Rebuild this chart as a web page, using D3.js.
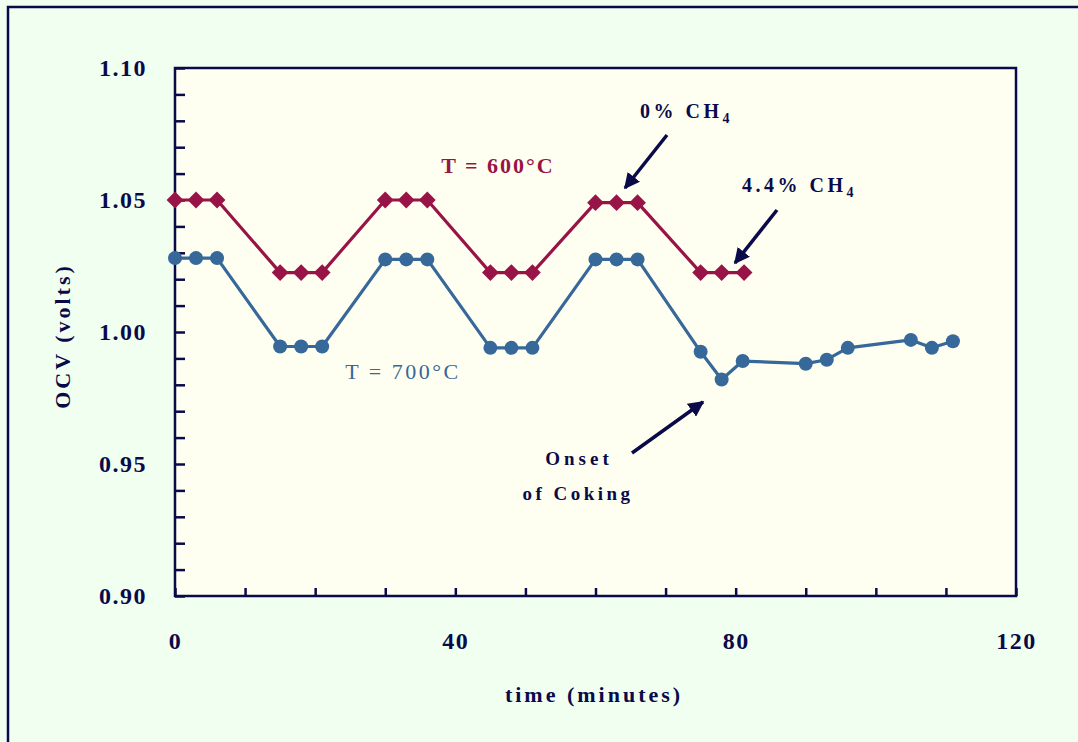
<!DOCTYPE html>
<html>
<head>
<meta charset="utf-8">
<script src="https://cdn.jsdelivr.net/npm/d3@7/dist/d3.min.js"></script>
<style>
  html, body { margin: 0; padding: 0; background: #f1fff1; }
  svg { display: block; }
  text { font-family: "Liberation Serif", "Times New Roman", serif; }
</style>
</head>
<body>
<svg id="chart" width="1078" height="742"></svg>
<script>
// OCV over time for two cell temperatures, switching between 0% and 4.4% CH4
const time600 = [0, 3, 6, 15, 18, 21, 30, 33, 36, 45, 48, 51, 60, 63, 66, 75, 78, 81.2];
const ocv600  = [1.050, 1.050, 1.050, 1.0225, 1.0225, 1.0225, 1.050, 1.050, 1.050,
                 1.0225, 1.0225, 1.0225, 1.049, 1.049, 1.049, 1.0225, 1.0225, 1.0225];

const time700 = [0, 3, 6, 15, 18, 21, 30, 33, 36, 45, 48, 51, 60, 63, 66,
                 75, 78, 81, 90, 93, 96, 105, 108, 111];
const ocv700  = [1.028, 1.028, 1.028, 0.9945, 0.9945, 0.9945, 1.0275, 1.0275, 1.0275,
                 0.994, 0.994, 0.994, 1.0275, 1.0275, 1.0275,
                 0.9925, 0.982, 0.989, 0.988, 0.9895, 0.994, 0.997, 0.994, 0.9965];

const xTickValues = [0, 10, 20, 30, 40, 50, 60, 70, 80, 90, 100, 110, 120];
const xTickLabels = [0, 40, 80, 120];
const yTickValues = [0.90, 0.91, 0.92, 0.93, 0.94, 0.95, 0.96, 0.97, 0.98, 0.99, 1.00,
                     1.01, 1.02, 1.03, 1.04, 1.05, 1.06, 1.07, 1.08, 1.09, 1.10];
const yTickLabels = [0.90, 0.95, 1.00, 1.05, 1.10];

const navy = "#0a0a4a";
const maroon = "#981447";
const steel = "#36689a";

const svg = d3.select("#chart");

// outer frame
svg.append("rect")
  .attr("x", 8).attr("y", 7).attr("width", 1100).attr("height", 760)
  .attr("fill", "#f1fff1").attr("stroke", navy).attr("stroke-width", 2.5);

const plot = { left: 175, top: 68, right: 1016, bottom: 596 };

const x = d3.scaleLinear().domain([0, 120]).range([plot.left, plot.right]);
const y = d3.scaleLinear().domain([0.90, 1.10]).range([plot.bottom, plot.top]);

// plot area
svg.append("rect")
  .attr("x", plot.left).attr("y", plot.top)
  .attr("width", plot.right - plot.left).attr("height", plot.bottom - plot.top)
  .attr("fill", "#fffff1").attr("stroke", navy).attr("stroke-width", 2.5);

const isLabel = (arr, v) => arr.some(a => Math.abs(a - v) < 1e-9);

// x axis (ticks point into the plot)
const xAxis = svg.append("g")
  .attr("transform", `translate(0,${plot.bottom})`)
  .call(d3.axisBottom(x).tickValues(xTickValues).tickSize(-8).tickPadding(36)
    .tickFormat(d => isLabel(xTickLabels, d) ? String(d) : ""));

// y axis
const yAxis = svg.append("g")
  .attr("transform", `translate(${plot.left},0)`)
  .call(d3.axisLeft(y).tickValues(yTickValues).tickSize(-10).tickPadding(28)
    .tickFormat(d => isLabel(yTickLabels, d) ? d3.format(".2f")(d) : ""));

[xAxis, yAxis].forEach(g => {
  g.select(".domain").remove();
  g.selectAll(".tick line").attr("stroke", navy).attr("stroke-width", 2.5);
  g.selectAll(".tick text")
    .attr("fill", navy)
    .style("font-size", "24px")
    .style("font-weight", "bold")
    .style("letter-spacing", "1.5px");
});

// axis titles
svg.append("text")
  .attr("x", 594).attr("y", 702)
  .attr("text-anchor", "middle")
  .attr("fill", navy)
  .style("font-size", "22px").style("font-weight", "bold").style("letter-spacing", "3px")
  .text("time (minutes)");

svg.append("text")
  .attr("transform", "translate(70,336) rotate(-90)")
  .attr("text-anchor", "middle")
  .attr("fill", navy)
  .style("font-size", "22px").style("font-weight", "bold").style("letter-spacing", "3px")
  .text("OCV (volts)");

// series
const line = d3.line().x(d => x(d[0])).y(d => y(d[1]));

const data600 = time600.map((t, i) => [t, ocv600[i]]);
const data700 = time700.map((t, i) => [t, ocv700[i]]);

svg.append("path").datum(data700)
  .attr("d", line).attr("fill", "none")
  .attr("stroke", steel).attr("stroke-width", 3.2).attr("stroke-linejoin", "round");

svg.append("g").selectAll("circle").data(data700).join("circle")
  .attr("cx", d => x(d[0])).attr("cy", d => y(d[1])).attr("r", 7)
  .attr("fill", steel);

svg.append("path").datum(data600)
  .attr("d", line).attr("fill", "none")
  .attr("stroke", maroon).attr("stroke-width", 3.2).attr("stroke-linejoin", "round");

const diamond = d3.symbol().type(d3.symbolDiamond2).size(180);
svg.append("g").selectAll("path").data(data600).join("path")
  .attr("transform", d => `translate(${x(d[0])},${y(d[1])})`)
  .attr("d", diamond)
  .attr("fill", maroon);

// series labels
svg.append("text")
  .attr("x", 498).attr("y", 173).attr("text-anchor", "middle")
  .attr("fill", maroon)
  .style("font-size", "22px").style("font-weight", "bold").style("letter-spacing", "2px")
  .text("T = 600°C");

svg.append("text")
  .attr("x", 403).attr("y", 379).attr("text-anchor", "middle")
  .attr("fill", steel)
  .style("font-size", "22px").style("letter-spacing", "2.5px")
  .text("T = 700°C");

// annotations
function chLabel(px, py, prefix) {
  const t = svg.append("text")
    .attr("x", px).attr("y", py)
    .attr("fill", navy)
    .style("font-size", "20px").style("font-weight", "bold").style("letter-spacing", "3.5px");
  t.append("tspan").text(prefix + " CH");
  t.append("tspan").attr("dy", 5).style("font-size", "14px").text("4");
}
chLabel(640, 118, "0%");
chLabel(742, 192, "4.4%");

svg.append("text")
  .attr("x", 579).attr("y", 465).attr("text-anchor", "middle")
  .attr("fill", navy)
  .style("font-size", "19px").style("font-weight", "bold").style("letter-spacing", "4px")
  .text("Onset");
svg.append("text")
  .attr("x", 578).attr("y", 500).attr("text-anchor", "middle")
  .attr("fill", navy)
  .style("font-size", "19px").style("font-weight", "bold").style("letter-spacing", "3.5px")
  .text("of Coking");

// arrows
svg.append("defs").append("marker")
  .attr("id", "head").attr("viewBox", "0 0 10 10")
  .attr("refX", 9).attr("refY", 5)
  .attr("markerWidth", 4.5).attr("markerHeight", 4.5)
  .attr("markerUnits", "strokeWidth")
  .attr("orient", "auto")
  .append("path").attr("d", "M0,0 L10,5 L0,10 z").attr("fill", navy);

const arrows = [
  [667, 135, 625, 188],
  [777, 210, 735, 263],
  [632, 453, 703, 402]
];
svg.append("g").selectAll("line").data(arrows).join("line")
  .attr("x1", d => d[0]).attr("y1", d => d[1])
  .attr("x2", d => d[2]).attr("y2", d => d[3])
  .attr("stroke", navy).attr("stroke-width", 3.5)
  .attr("marker-end", "url(#head)");
</script>
</body>
</html>
